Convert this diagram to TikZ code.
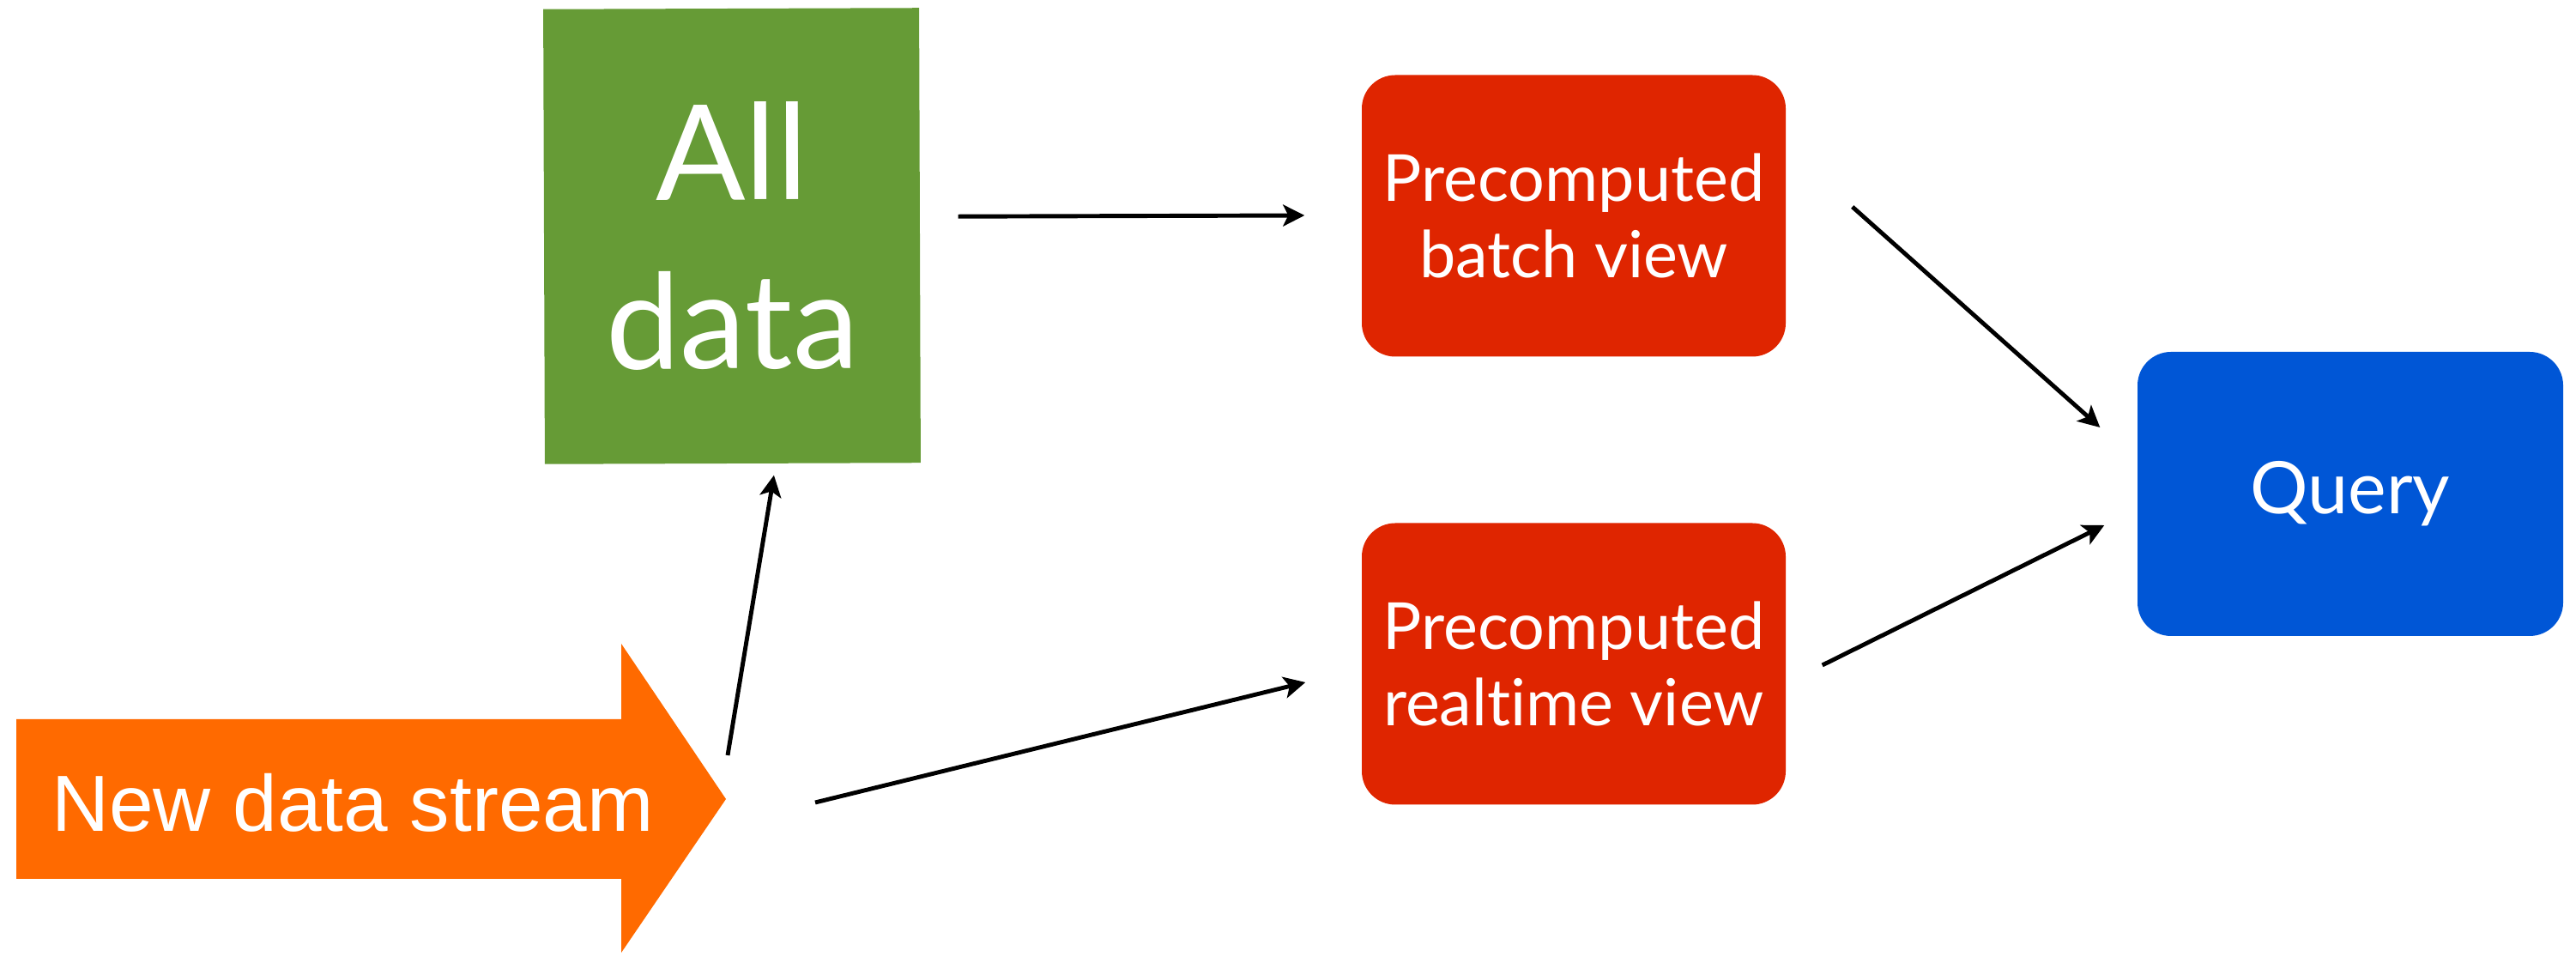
\documentclass[tikz,border=0pt]{standalone}
\usepackage{fontspec}
\usepackage{tikz}
\usetikzlibrary{arrows.meta,positioning,calc}
\newfontfamily\boxfont[Ligatures=NoCommon]{Lato}
\newfontfamily\streamfont{Liberation Sans}
\definecolor{datagreen}{RGB}{102,155,54}
\definecolor{viewred}{RGB}{223,37,0}
\definecolor{queryblue}{RGB}{0,86,214}
\definecolor{streamorange}{RGB}{255,106,0}
\tikzset{
  view/.style={fill=viewred, rounded corners=0.39cm, minimum width=4.94cm, minimum height=3.28cm,
    text=white, align=center, font=\boxfont\fontsize{21.5}{25.6}\selectfont},
  flow/.style={-{Stealth[length=2.5mm,width=2.5mm,inset=0.6mm]}, line width=1.4pt},
}

\begin{document}
\begin{tikzpicture}
\useasboundingbox (0,0) rectangle (30.02,11.15);

% the stream coming in
\fill[streamorange] (0.19,0.91) -- (7.24,0.91) -- (7.24,0.05) -- (8.46,1.84)
  -- (7.24,3.65) -- (7.24,2.77) -- (0.19,2.77) -- cycle;
\coordinate (tip) at (8.46,1.84);
\node (stream) at (4.11,1.80) [text=white, font=\streamfont\fontsize{26.4}{30}\selectfont] {New data stream};

\node (alldata) at (8.53,8.40) [fill=datagreen, minimum width=4.38cm, minimum height=5.30cm, rotate=0.2,
  text=white, align=center, font=\boxfont\fontsize{44}{56}\selectfont] {All\\data};

\node (batch) at (18.34,8.635) [view] {Precomputed\\batch view};
\node (realtime) at (18.34,3.415) [view] {Precomputed\\realtime view};
\node (query) at (27.39,5.395) [view, fill=queryblue, minimum width=4.96cm, minimum height=3.31cm,
  font=\boxfont\fontsize{24}{28}\selectfont] {Query};

\draw[flow] ($(tip)+(0.02,0.51)$) -- ($(alldata.south)+(0.48,-0.13)$);
\draw[flow] ($(tip)+(1.04,-0.04)$) -- ($(realtime.west)+(-0.65,-0.215)$);
\draw[flow] ($(alldata.east)+(0.44,0.22)$) -- ($(batch.west)+(-0.66,0.005)$);
\draw[flow] ($(batch.east)+(0.77,0.105)$) -- ($(query.west)+(-0.43,0.775)$);
\draw[flow] ($(realtime.east)+(0.42,-0.015)$) -- ($(query.west)+(-0.38,-0.365)$);

\end{tikzpicture}
\end{document}
